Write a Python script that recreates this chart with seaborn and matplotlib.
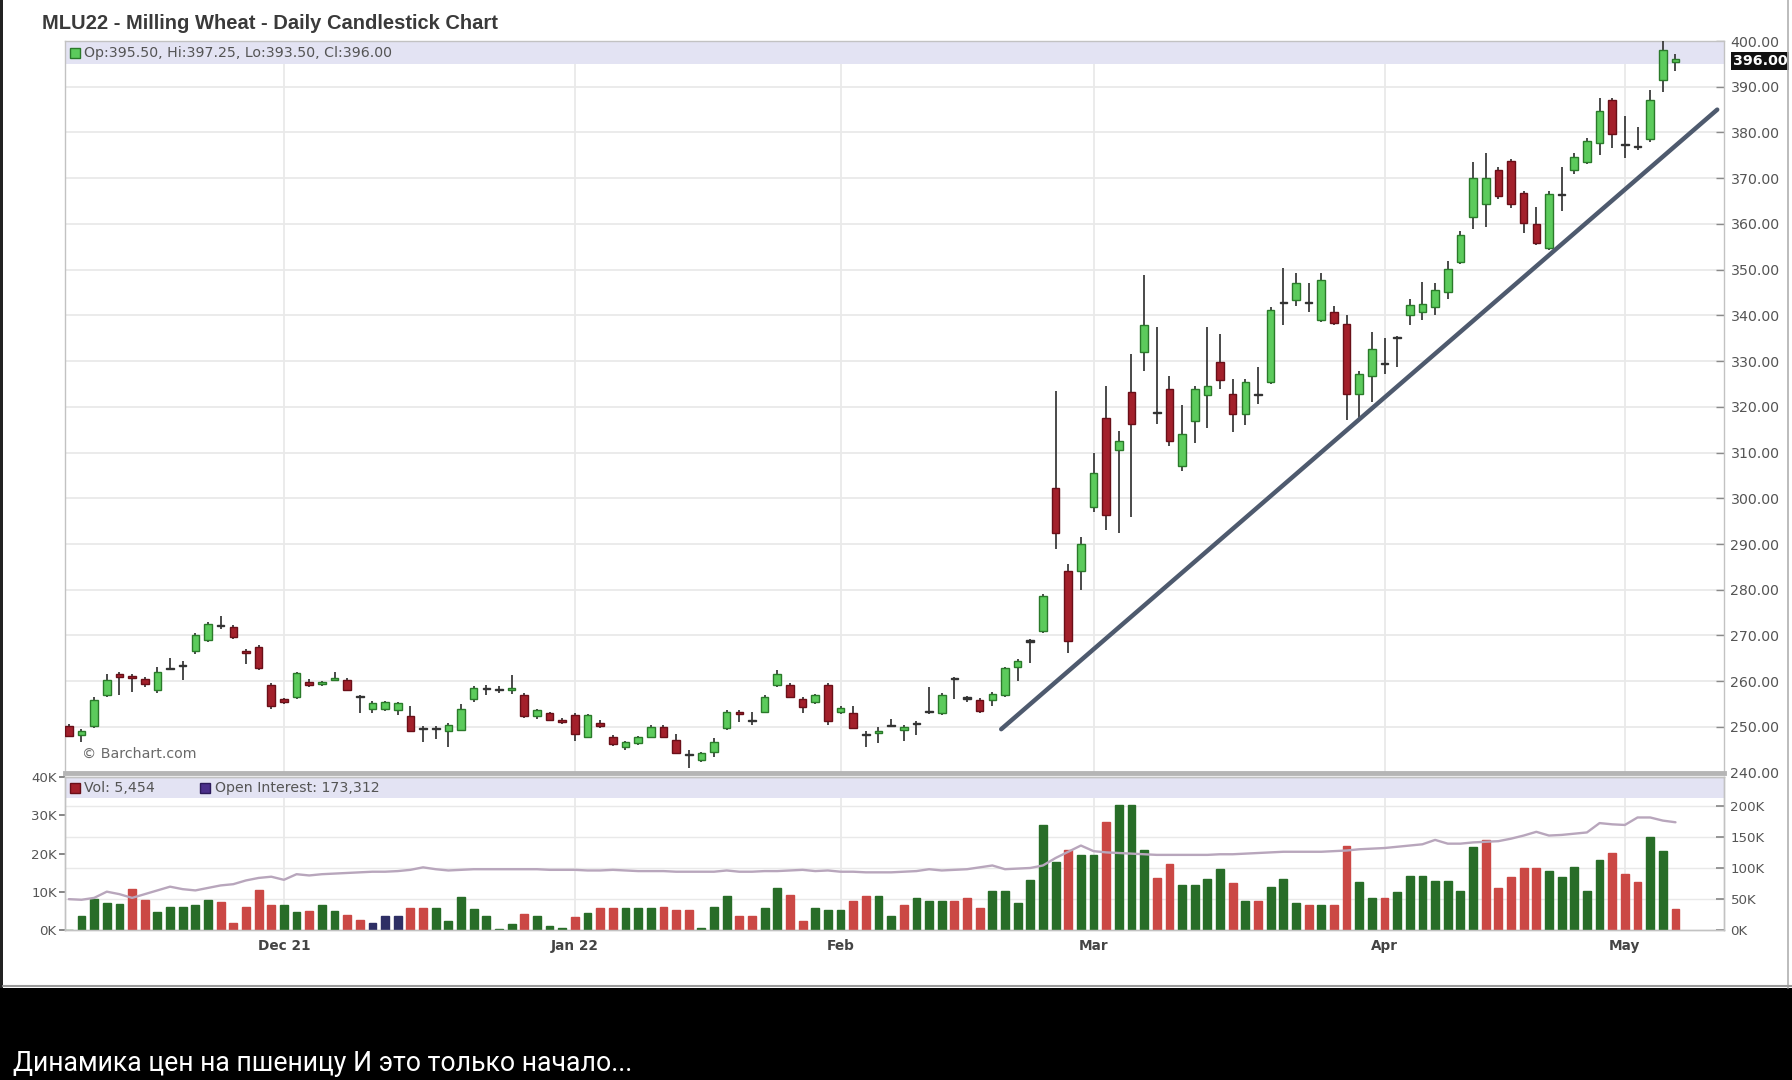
"""MLU22 밀 선물 일봉 캔들차트(거래량 / 미결제약정 포함)를 다시 그리는 코드입니다."""

import matplotlib

matplotlib.use("Agg")

import matplotlib.patches as mpatches
import matplotlib.pyplot as plt
import numpy as np
import pandas as pd
import seaborn as sns
from matplotlib.lines import Line2D
from matplotlib.transforms import blended_transform_factory


OUTPUT_PATH = "out.png"

TITLE = "MLU22 - Milling Wheat - Daily Candlestick Chart"
CAPTION = "Динамика цен на пшеницу И это только начало..."

# 일봉 OHLC (2021-11-08 ~ 2022-05-06, 128 거래일)
opens = [
    250.2, 248.2, 250.1, 257.0, 261.5, 261.2, 260.5, 258.0, 262.7, 263.6,
    266.7, 269.0, 272.0, 271.8, 266.6, 267.5, 259.1, 256.0, 256.6, 259.9,
    259.3, 260.2, 260.2, 256.5, 254.0, 254.0, 253.8, 252.3, 249.5, 249.8,
    249.2, 249.3, 256.0, 258.6, 258.2, 258.1, 257.0, 252.3, 253.0, 251.5,
    252.6, 247.9, 250.8, 247.9, 245.5, 246.5, 247.9, 250.0, 247.2, 244.0,
    242.8, 244.6, 249.7, 253.3, 251.5, 253.3, 259.2, 259.2, 256.2, 255.5,
    259.1, 253.2, 253.0, 248.3, 248.7, 250.3, 249.4, 250.8, 253.4, 253.0,
    260.6, 256.3, 255.9, 255.8, 257.0, 263.1, 268.6, 271.0, 302.2, 284.2,
    284.2, 298.2, 317.6, 310.5, 323.2, 332.0, 318.9, 323.9, 307.0, 316.9,
    322.5, 329.8, 322.8, 318.4, 322.6, 325.4, 342.6, 343.4, 343.0, 339.0,
    340.8, 338.2, 322.8, 326.8, 329.5, 335.3, 340.0, 340.7, 341.8, 345.1,
    351.7, 361.6, 364.3, 371.9, 373.7, 366.8, 359.9, 354.7, 366.3, 371.7,
    373.5, 377.8, 387.0, 377.2, 376.8, 378.6, 391.4, 395.5,
]
highs = [
    250.6, 249.5, 256.5, 261.5, 262.0, 261.5, 261.0, 263.0, 265.0, 264.5,
    270.5, 273.0, 274.3, 272.3, 267.0, 268.0, 259.5, 256.3, 262.0, 260.5,
    260.0, 262.0, 260.6, 257.0, 255.6, 255.7, 255.5, 254.5, 250.3, 250.2,
    250.8, 255.0, 259.0, 259.2, 259.0, 261.4, 257.5, 253.9, 253.3, 252.0,
    253.0, 252.8, 251.5, 248.2, 247.0, 248.0, 250.4, 250.5, 248.5, 245.0,
    244.6, 247.5, 253.6, 253.8, 253.2, 257.0, 262.5, 259.6, 256.6, 257.3,
    259.6, 254.6, 254.5, 249.2, 250.0, 251.8, 250.4, 251.2, 258.8, 257.4,
    261.0, 256.8, 256.3, 257.6, 263.0, 264.8, 269.2, 279.0, 323.5, 285.7,
    291.5, 310.0, 324.6, 314.7, 331.5, 348.9, 337.5, 326.8, 320.5, 324.5,
    337.5, 336.0, 326.0, 326.0, 328.7, 341.8, 350.4, 349.2, 347.0, 349.2,
    342.0, 340.0, 327.8, 336.3, 335.0, 335.6, 343.5, 347.3, 347.0, 352.0,
    358.5, 373.5, 375.5, 372.5, 374.3, 367.2, 363.7, 367.2, 372.4, 375.5,
    378.8, 387.6, 387.6, 383.5, 381.2, 389.2, 400.0, 397.25,
]
lows = [
    247.8, 246.8, 249.8, 256.5, 257.0, 257.7, 258.8, 257.5, 262.4, 260.2,
    266.0, 268.5, 271.5, 269.3, 263.8, 262.5, 254.0, 255.0, 256.0, 258.8,
    259.0, 260.0, 257.8, 253.0, 253.0, 253.5, 252.5, 248.9, 246.8, 247.3,
    245.5, 249.0, 255.5, 257.0, 257.5, 257.2, 252.0, 251.8, 251.2, 250.6,
    247.0, 247.5, 249.8, 245.8, 245.0, 246.0, 247.5, 247.5, 244.0, 241.0,
    242.4, 243.5, 249.4, 251.0, 250.4, 253.0, 258.8, 256.3, 253.0, 255.0,
    250.5, 252.8, 249.5, 245.7, 246.4, 249.9, 247.0, 248.3, 252.8, 252.6,
    256.2, 255.5, 253.0, 254.5, 256.5, 260.0, 264.0, 270.5, 289.0, 266.2,
    280.0, 297.0, 293.0, 292.5, 296.0, 327.9, 316.3, 311.5, 306.0, 312.0,
    315.4, 324.0, 314.5, 316.0, 320.6, 325.0, 338.0, 342.0, 340.8, 338.5,
    337.8, 317.2, 317.2, 321.0, 327.2, 328.7, 337.9, 339.0, 340.0, 343.6,
    351.2, 359.0, 359.3, 365.5, 363.5, 358.1, 355.3, 354.2, 362.8, 371.0,
    373.0, 375.0, 376.6, 374.4, 376.2, 378.0, 388.9, 393.5,
]
closes = [
    248.0, 249.0, 255.9, 260.2, 261.0, 260.8, 259.4, 262.0, 262.8, 263.3,
    270.0, 272.5, 272.2, 269.6, 266.2, 262.8, 254.5, 255.4, 261.7, 259.2,
    259.8, 260.6, 258.1, 256.8, 255.3, 255.4, 255.2, 249.2, 249.8, 249.5,
    250.4, 254.0, 258.4, 258.3, 258.0, 258.6, 252.4, 253.6, 251.6, 251.0,
    248.4, 252.6, 250.3, 246.2, 246.8, 247.7, 250.0, 247.9, 244.4, 243.9,
    244.3, 246.8, 253.3, 252.8, 251.3, 256.6, 261.6, 256.6, 254.4, 256.9,
    251.2, 254.2, 249.8, 248.2, 249.1, 250.2, 249.9, 250.6, 253.2, 257.0,
    260.4, 256.2, 253.4, 257.3, 262.8, 264.5, 268.9, 278.7, 292.3, 268.8,
    290.0, 305.5, 296.3, 312.5, 316.3, 337.9, 318.6, 312.5, 314.0, 323.9,
    324.6, 325.9, 318.4, 325.4, 322.8, 341.2, 342.8, 347.0, 342.7, 347.8,
    338.3, 322.8, 327.2, 332.7, 329.4, 335.0, 342.2, 342.5, 345.5, 350.2,
    357.5, 370.0, 370.0, 366.1, 364.3, 360.2, 355.8, 366.5, 366.6, 374.6,
    378.2, 384.8, 379.7, 377.4, 376.9, 387.0, 398.0, 396.0,
]

# 거래량 (천 단위), 막대 색 방향(g 상승 / r 하락 / b 보합)
volume_k = [
    0.0, 3.8, 8.2, 7.1, 6.9, 10.9, 7.8, 4.7, 6.0, 6.0,
    6.7, 8.0, 7.3, 2.0, 6.0, 10.6, 6.7, 6.7, 4.7, 5.1,
    6.7, 5.1, 4.0, 2.7, 2.0, 3.8, 3.8, 5.8, 5.8, 5.8,
    2.5, 8.7, 5.6, 3.8, 0.3, 1.6, 4.2, 3.8, 1.2, 0.5,
    3.5, 4.6, 5.9, 5.9, 5.9, 5.9, 5.9, 6.0, 5.4, 5.4,
    0.7, 6.0, 8.9, 3.7, 3.7, 5.9, 11.0, 9.3, 2.4, 5.9,
    5.4, 5.4, 7.6, 8.9, 8.9, 3.7, 6.7, 8.4, 7.6, 7.6,
    7.6, 8.4, 5.9, 10.2, 10.2, 7.2, 13.2, 27.4, 17.9, 20.9,
    19.7, 19.7, 28.3, 32.6, 32.6, 21.0, 13.7, 17.3, 11.8, 11.8,
    13.3, 15.9, 12.4, 7.7, 7.7, 11.3, 13.3, 7.0, 6.7, 6.7,
    6.7, 21.9, 12.7, 8.4, 8.4, 9.9, 14.2, 14.2, 12.9, 12.9,
    10.3, 21.6, 23.6, 11.1, 13.9, 16.3, 16.3, 15.6, 13.9, 16.5,
    10.3, 18.4, 20.2, 14.6, 12.7, 24.4, 20.8, 5.454,
]
volume_dir = [
    "g", "g", "g", "g", "g", "r", "r", "g", "g", "g",
    "g", "g", "r", "r", "r", "r", "r", "g", "g", "r",
    "g", "g", "r", "r", "b", "b", "b", "r", "r", "g",
    "g", "g", "g", "g", "g", "g", "r", "g", "g", "g",
    "r", "g", "r", "r", "g", "g", "g", "r", "r", "r",
    "g", "g", "g", "r", "r", "g", "g", "r", "r", "g",
    "g", "g", "r", "r", "g", "g", "r", "g", "g", "g",
    "r", "r", "r", "g", "g", "g", "g", "g", "g", "r",
    "g", "g", "r", "g", "g", "g", "r", "r", "g", "g",
    "g", "g", "r", "g", "r", "g", "g", "g", "r", "g",
    "r", "r", "g", "g", "r", "g", "g", "g", "g", "g",
    "g", "g", "r", "r", "r", "r", "r", "g", "g", "g",
    "g", "g", "r", "r", "r", "g", "g", "r",
]

# 미결제약정 (천 단위)
open_interest_k = [
    50, 49, 52, 62, 58, 52, 58, 64, 70, 66,
    64, 68, 72, 74, 80, 84, 86, 81, 90, 88,
    90, 91, 92, 93, 94, 94, 95, 97, 101, 98,
    96, 97, 98, 98, 98, 98, 98, 98, 97, 97,
    97, 96, 96, 97, 96, 95, 95, 95, 94, 94,
    94, 94, 96, 94, 94, 95, 95, 96, 97, 95,
    96, 94, 94, 93, 93, 93, 94, 95, 98, 96,
    97, 98, 101, 104, 98, 99, 100, 104, 116, 126,
    136, 127, 125, 124, 123, 122, 121, 121, 121, 121,
    121, 122, 122, 123, 124, 125, 126, 126, 126, 126,
    127, 128, 130, 131, 132, 134, 136, 138, 145, 139,
    139, 141, 142, 143, 147, 152, 158, 152, 153, 155,
    157, 172, 170, 169, 181, 181, 176, 173.312,
]

month_ticks = [17, 40, 61, 81, 104, 123]
month_labels = ["Dec 21", "Jan 22", "Feb", "Mar", "Apr", "May"]
price_ticks = [240, 250, 260, 270, 280, 290, 300, 310, 320, 330, 340, 350, 360, 370, 380, 390, 400]
volume_ticks = [0, 10, 20, 30, 40]
oi_ticks = [0, 50, 100, 150, 200]

# 추세선 (봉 번호, 가격)
trend_x = [73.7, 130.3]
trend_y = [249.5, 385.0]

X_RANGE = (-0.3, 130.8)
PRICE_RANGE = (240, 400)
VOLUME_RANGE = (0, 40)
OI_RANGE = (0, 246)

GREEN_BODY = "#5ccb5c"
GREEN_EDGE = "#2a7a2a"
RED_BODY = "#a3202b"
RED_EDGE = "#6a0f18"
DOJI = "#333333"
BAND = "#e3e3f3"
GRID = "#e9e9e9"
SPINE = "#c2c2c2"
LABEL = "#555555"
SMALL_FONT = ["DejaVu Sans"]
SMALL_SIZE = 10.2


def style_spines(ax, color=SPINE, width=1.0):
    for spine in ax.spines.values():
        spine.set_color(color)
        spine.set_linewidth(width)


def draw_price_panel(ax, prices: pd.DataFrame) -> None:
    """캔들, 추세선, 범례 띠를 그립니다."""
    up = prices["close"] > prices["open"]
    flat = (prices["close"] - prices["open"]).abs() < 0.35
    face = np.where(flat, DOJI, np.where(up, GREEN_BODY, RED_BODY))
    edge = np.where(flat, DOJI, np.where(up, GREEN_EDGE, RED_EDGE))
    body_low = prices[["open", "close"]].min(axis=1)
    body_h = (prices["close"] - prices["open"]).abs().clip(lower=0.25)

    ax.vlines(prices.index, prices["low"], prices["high"], color="#3c3c3c", lw=1.3, zorder=3)
    ax.bar(prices.index, body_h, bottom=body_low, width=0.6, color=face,
           edgecolor=edge, linewidth=1.0, zorder=4)

    sns.lineplot(x=trend_x, y=trend_y, ax=ax, color="#4e5a6e", lw=3.2, zorder=5)

    ax.add_patch(mpatches.Rectangle((0, 0.969), 1, 0.031, transform=ax.transAxes,
                                    facecolor=BAND, edgecolor="none", zorder=1))

    ax.set_xlim(*X_RANGE)
    ax.set_ylim(*PRICE_RANGE)
    ax.set_xticks(month_ticks)
    ax.tick_params(axis="x", length=0, labelbottom=False)
    ax.yaxis.tick_right()
    ax.set_yticks(price_ticks)
    ax.set_yticklabels([f"{v:.2f}" for v in price_ticks], family=SMALL_FONT)
    ax.tick_params(axis="y", direction="in", length=6, width=1, color="#8a8a8a",
                   labelsize=SMALL_SIZE, labelcolor=LABEL, pad=5)
    ax.grid(True, color=GRID, lw=1.3)
    ax.set_axisbelow(True)
    ax.set_xlabel("")
    ax.set_ylabel("")
    style_spines(ax)
    ax.spines["bottom"].set_color("#b5b5b5")
    ax.spines["bottom"].set_linewidth(3.5)

    ax.plot(0.0062, 0.983, marker="s", ms=7, mfc=GREEN_BODY, mec=GREEN_EDGE,
            transform=ax.transAxes, clip_on=False, zorder=6)
    ohlc_text = (f"Op:{opens[-1]:.2f}, Hi:{highs[-1]:.2f}, "
                 f"Lo:{lows[-1]:.2f}, Cl:{closes[-1]:.2f}")
    ax.text(0.0115, 0.983, ohlc_text, transform=ax.transAxes, fontsize=SMALL_SIZE,
            family=SMALL_FONT, color=LABEL, va="center", ha="left", zorder=6)
    ax.text(0.0105, 0.026, "© Barchart.com", transform=ax.transAxes, fontsize=SMALL_SIZE,
            family=SMALL_FONT, color="#6a6a6a", va="center", ha="left")

    last_tf = blended_transform_factory(ax.transAxes, ax.transData)
    ax.text(1.0055, closes[-1] - 0.4, f"{closes[-1]:.2f}", transform=last_tf, color="white",
            fontsize=SMALL_SIZE, family=SMALL_FONT, fontweight="bold", va="center",
            ha="left", clip_on=False,
            bbox=dict(boxstyle="square,pad=0.12", fc="#111111", ec="none"), zorder=7)


def draw_volume_panel(ax, ax_oi) -> None:
    """거래량 막대와 미결제약정 선을 그립니다."""
    vol_df = pd.DataFrame({"bar": np.arange(len(volume_k)), "volume": volume_k, "dir": volume_dir})
    sns.barplot(data=vol_df, x="bar", y="volume", hue="dir", native_scale=True, dodge=False,
                palette={"g": "#1d781d", "r": "#e2322e", "b": "#25266e"}, width=0.62,
                errorbar=None, legend=False, linewidth=1.0, ax=ax)
    light = {"#1d781d": "#86d886", "#e2322e": "#ff9a94", "#25266e": "#6a6ab0"}
    for patch in ax.patches:
        face = matplotlib.colors.to_hex(patch.get_facecolor())
        patch.set_edgecolor(light.get(face, face))
        patch.set_zorder(3)

    ax.add_patch(mpatches.Rectangle((0, 0.866), 1, 0.134, transform=ax.transAxes,
                                    facecolor=BAND, edgecolor="none", zorder=1))

    ax.set_xlim(*X_RANGE)
    ax.set_ylim(*VOLUME_RANGE)
    ax.set_yticks(volume_ticks)
    ax.set_yticklabels([f"{v}K" for v in volume_ticks], family=SMALL_FONT)
    ax.tick_params(axis="y", direction="out", length=4, color="#777777",
                   labelsize=SMALL_SIZE - 0.6, labelcolor=LABEL, pad=2)
    ax.set_xticks(month_ticks)
    ax.set_xticklabels(month_labels, fontsize=SMALL_SIZE - 0.4, fontweight="bold",
                       color="#444444", family=SMALL_FONT)
    ax.tick_params(axis="x", length=0, pad=6)
    ax.set_yticks([t * VOLUME_RANGE[1] / OI_RANGE[1] for t in oi_ticks[1:]], minor=True)
    ax.tick_params(axis="y", which="minor", length=0)
    ax.grid(True, axis="x", color=GRID, lw=1.3)
    ax.grid(True, axis="y", which="minor", color=GRID, lw=1.0)
    ax.set_axisbelow(True)
    ax.set_xlabel("")
    ax.set_ylabel("")
    style_spines(ax)

    sns.lineplot(x=np.arange(len(open_interest_k)), y=open_interest_k, ax=ax_oi,
                 color="#b8a6bc", lw=1.7, zorder=4)
    ax_oi.set_xlim(*X_RANGE)
    ax_oi.set_ylim(*OI_RANGE)
    ax_oi.set_yticks(oi_ticks)
    ax_oi.set_yticklabels([f"{v}K" for v in oi_ticks], family=SMALL_FONT)
    ax_oi.tick_params(axis="y", direction="in", length=6, color="#8a8a8a",
                      labelsize=SMALL_SIZE - 0.6, labelcolor=LABEL, pad=5)
    ax_oi.set_ylabel("")
    style_spines(ax_oi)

    ax_oi.plot(0.0062, 0.925, marker="s", ms=7, mfc="#a3202b", mec="#6a0f18",
               transform=ax_oi.transAxes, clip_on=False)
    ax_oi.text(0.0115, 0.925, f"Vol: {volume_k[-1] * 1000:,.0f}", transform=ax_oi.transAxes,
               fontsize=SMALL_SIZE, family=SMALL_FONT, color=LABEL, va="center", ha="left")
    ax_oi.plot(0.0845, 0.925, marker="s", ms=7, mfc="#4b2f8a", mec="#2c1a5a",
               transform=ax_oi.transAxes, clip_on=False)
    ax_oi.text(0.0905, 0.925, f"Open Interest: {open_interest_k[-1] * 1000:,.0f}",
               transform=ax_oi.transAxes, fontsize=SMALL_SIZE, family=SMALL_FONT,
               color=LABEL, va="center", ha="left")


def main() -> None:
    sns.set_theme(style="white")
    plt.rcParams["font.family"] = ["Liberation Sans", "DejaVu Sans"]

    prices = pd.DataFrame(
        {"open": opens, "high": highs, "low": lows, "close": closes},
        index=np.arange(len(closes)),
    )

    fig = plt.figure(figsize=(17.92, 10.8), dpi=100)
    fig.patch.set_facecolor("white")

    # 스크린샷 하단 검은 띠, 테두리와 캡션
    fig.add_artist(mpatches.Rectangle((0, 0), 1, 0.0852, transform=fig.transFigure,
                                      facecolor="black", edgecolor="none", zorder=0))
    fig.add_artist(mpatches.Rectangle((0, 0.0852), 0.0017, 0.9148, transform=fig.transFigure,
                                      facecolor="#222222", edgecolor="none", zorder=0))
    fig.add_artist(Line2D([0.9978, 0.9978], [0.0852, 1.0], transform=fig.transFigure,
                          color="#b0b0b0", lw=1.2))
    fig.add_artist(Line2D([0.0017, 1.0], [0.0866, 0.0866], transform=fig.transFigure,
                          color="#9a9a9a", lw=1.5))
    fig.text(0.0075, 0.0150, CAPTION, color="white", fontsize=19.2,
             family=["Roboto", "DejaVu Sans"], va="center", ha="left")

    fig.text(0.0234, 0.9787, TITLE, color="#3a3a3a", fontsize=14.5, fontweight="bold",
             va="center", ha="left")

    ax_price = fig.add_axes([0.0363, 0.2846, 0.9255, 0.6774])
    ax_vol = fig.add_axes([0.0363, 0.1386, 0.9255, 0.1420])
    ax_oi = ax_vol.twinx()

    draw_price_panel(ax_price, prices)
    draw_volume_panel(ax_vol, ax_oi)

    fig.savefig(OUTPUT_PATH, dpi=100)
    plt.close(fig)


if __name__ == "__main__":
    main()
